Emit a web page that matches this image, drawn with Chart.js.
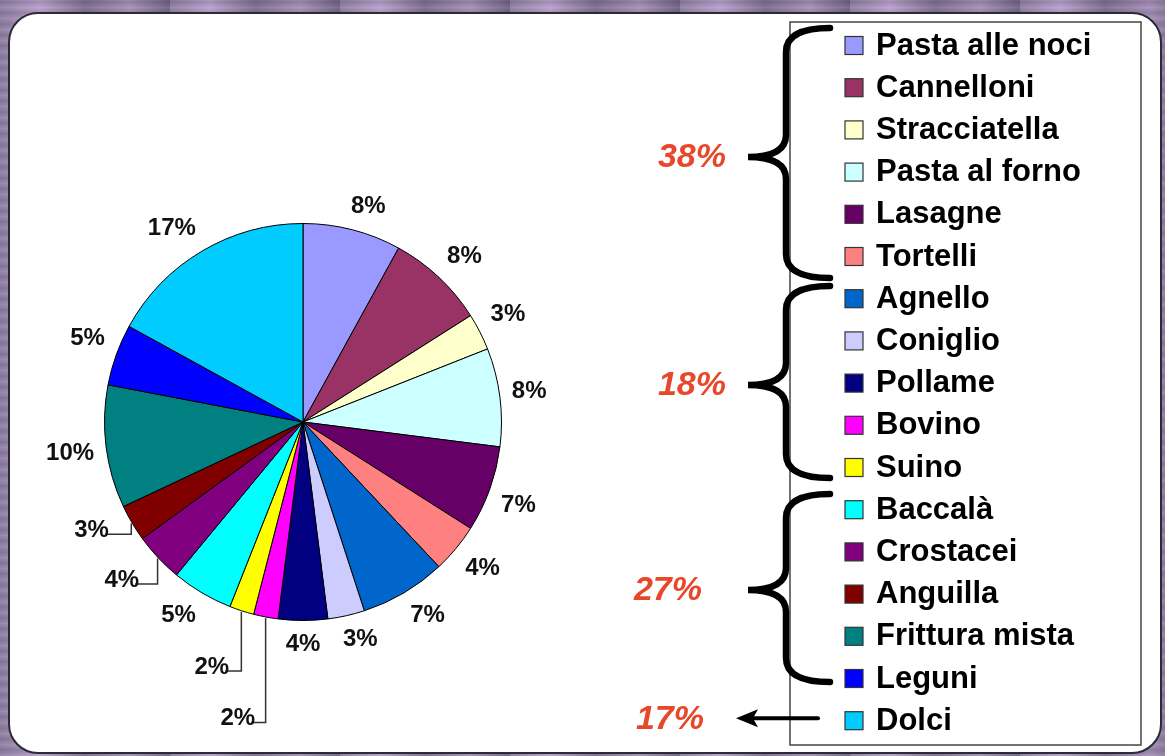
<!DOCTYPE html>
<html>
<head>
<meta charset="utf-8">
<script src="https://cdn.jsdelivr.net/npm/chart.js@4.4.0/dist/chart.umd.min.js"></script>
<style>
  html, body { margin: 0; padding: 0; }
  body {
    width: 1165px; height: 756px; overflow: hidden; position: relative;
    background:
      repeating-linear-gradient(0deg, rgba(255,255,255,0.08) 0px, rgba(0,0,0,0.10) 6px, rgba(255,255,255,0.05) 11px),
      repeating-linear-gradient(90deg, #8f7fa3 0px, #b9a0cc 40px, #7d6d90 85px, #a58fb8 130px, #6f6283 170px);
  }
  #panel {
    position: absolute; left: 8px; top: 12px; width: 1150px; height: 738px;
    background: #fff; border: 2px solid #2b2b33; border-radius: 30px;
  }
  #myChart { position: absolute; left: 0; top: 0; }
</style>
</head>
<body>
<div id="panel"></div>
<canvas id="myChart" width="1165" height="756"></canvas>
<script>
var labels = ['Pasta alle noci', 'Cannelloni', 'Stracciatella', 'Pasta al forno', 'Lasagne', 'Tortelli',
  'Agnello', 'Coniglio', 'Pollame', 'Bovino', 'Suino',
  'Baccalà', 'Crostacei', 'Anguilla', 'Frittura mista', 'Leguni',
  'Dolci'];
var values = [8, 8, 3, 8, 7, 4, 7, 3, 4, 2, 2, 5, 4, 3, 10, 5, 17];
var colors = ['#9999FF', '#993366', '#FFFFCC', '#CCFFFF', '#660066', '#FF8080',
  '#0066CC', '#CCCCFF', '#000080', '#FF00FF', '#FFFF00',
  '#00FFFF', '#800080', '#800000', '#008080', '#0000FF',
  '#00CCFF'];
// legend rows belonging to each bracket (first, last)
var groupRows = [[0, 5], [6, 10], [11, 15], [16, 16]];

// labels that were pushed away from the pie, with a leader line
// index: [distance beyond the edge, angle shift in degrees]
var movedLabels = { 9: [105, 1.6], 10: [63, 2.4], 12: [42, 2.1], 13: [39, 3.5] };

function clamp1(v) { return Math.max(-1, Math.min(1, v)); }

var pieLabels = {
  id: 'pieLabels',
  afterDatasetsDraw: function(chart) {
    var ctx = chart.ctx;
    var meta = chart.getDatasetMeta(0);
    var total = values.reduce(function(a, b) { return a + b; }, 0);
    ctx.save();
    ctx.font = 'bold 24px Arial, "Liberation Sans", sans-serif';
    ctx.fillStyle = '#111';
    ctx.textAlign = 'center';
    ctx.textBaseline = 'middle';
    meta.data.forEach(function(arc, i) {
      var p = arc.getProps(['x', 'y', 'startAngle', 'endAngle', 'outerRadius'], true);
      var mid = (p.startAngle + p.endAngle) / 2;
      var txt = Math.round(values[i] / total * 100) + '%';
      var w = ctx.measureText(txt).width;
      var lx, ly;
      if (movedLabels[i]) {
        var ang = mid + movedLabels[i][1] * Math.PI / 180;
        var rr = p.outerRadius + movedLabels[i][0];
        lx = p.x + Math.cos(ang) * rr;
        ly = p.y + Math.sin(ang) * rr;
        var ex = p.x + Math.cos(mid) * (p.outerRadius + 1);
        var ey = p.y + Math.sin(mid) * (p.outerRadius + 1);
        ctx.beginPath();
        ctx.strokeStyle = '#333';
        ctx.lineWidth = 1.5;
        ctx.moveTo(ex, ey);
        ctx.lineTo(ex, ly + 4);
        ctx.lineTo(lx + w / 2 - 4, ly + 4);
        ctx.stroke();
      } else {
        var ux = Math.cos(mid), uy = Math.sin(mid);
        var rr2 = p.outerRadius + 12;
        lx = p.x + ux * rr2 + (w / 2) * clamp1(ux * 3);
        ly = p.y + uy * rr2 + 12 * clamp1(uy * 3);
      }
      ctx.fillText(txt, lx, ly);
    });
    ctx.restore();
  }
};

var sideLegend = {
  id: 'sideLegend',
  afterDraw: function(chart) {
    var ctx = chart.ctx;
    var top = 45, rowH = 42.2;
    var boxX = 845, textX = 876;
    ctx.save();
    ctx.strokeStyle = '#444';
    ctx.lineWidth = 1.5;
    ctx.strokeRect(790, 22, 351, 723);

    ctx.font = 'bold 31px Arial, "Liberation Sans", sans-serif';
    ctx.textAlign = 'left';
    ctx.textBaseline = 'middle';
    chart.data.labels.forEach(function(lab, i) {
      var y = top + i * rowH;
      ctx.fillStyle = chart.data.datasets[0].backgroundColor[i];
      ctx.fillRect(boxX, y - 8.5, 18, 18);
      ctx.strokeStyle = '#333';
      ctx.lineWidth = 1.2;
      ctx.strokeRect(boxX, y - 8.5, 18, 18);
      ctx.fillStyle = '#000';
      ctx.fillText(lab, textX, y + 1);
    });

    // brackets and group totals
    var braceSpan = [[28, 278, 157], [286, 478, 385], [494, 682, 590]];
    var labelX = [726, 726, 702, 704];
    ctx.font = 'italic bold 34px Arial, "Liberation Sans", sans-serif';
    ctx.textAlign = 'right';
    groupRows.forEach(function(g, k) {
      var sum = 0;
      for (var i = g[0]; i <= g[1]; i++) sum += values[i];
      var mid;
      ctx.strokeStyle = '#000';
      ctx.fillStyle = '#000';
      if (g[0] === g[1]) {
        mid = top + g[0] * rowH - 2;
        ctx.lineWidth = 4;
        ctx.beginPath();
        ctx.moveTo(818, mid);
        ctx.lineTo(752, mid);
        ctx.stroke();
        ctx.beginPath();
        ctx.moveTo(736, mid);
        ctx.lineTo(758, mid - 9);
        ctx.lineTo(753, mid);
        ctx.lineTo(758, mid + 9);
        ctx.closePath();
        ctx.fill();
      } else {
        var bt = braceSpan[k][0], bb = braceSpan[k][1];
        mid = braceSpan[k][2];
        var xTip = 748, xLine = 786, xEnd = 830;
        ctx.lineWidth = 6.5;
        ctx.lineCap = 'round';
        ctx.beginPath();
        ctx.moveTo(xEnd, bt);
        ctx.quadraticCurveTo(xLine, bt, xLine, bt + 24);
        ctx.lineTo(xLine, mid - 22);
        ctx.quadraticCurveTo(xLine, mid, xTip, mid);
        ctx.quadraticCurveTo(xLine, mid, xLine, mid + 22);
        ctx.lineTo(xLine, bb - 24);
        ctx.quadraticCurveTo(xLine, bb, xEnd, bb);
        ctx.stroke();
      }
      ctx.fillStyle = '#E8482A';
      ctx.fillText(sum + '%', labelX[k], mid + 1);
    });
    ctx.restore();
  }
};

var ctx = document.getElementById('myChart').getContext('2d');
new Chart(ctx, {
  type: 'pie',
  data: {
    labels: labels,
    datasets: [{
      data: values,
      backgroundColor: colors,
      borderColor: '#000',
      borderWidth: 1,
      hoverOffset: 0
    }]
  },
  options: {
    responsive: false,
    animation: false,
    events: [],
    layout: { padding: { left: 104, right: 663, top: 223, bottom: 135 } },
    plugins: {
      legend: { display: false },
      tooltip: { enabled: false }
    }
  },
  plugins: [pieLabels, sideLegend]
});
</script>
</body>
</html>
